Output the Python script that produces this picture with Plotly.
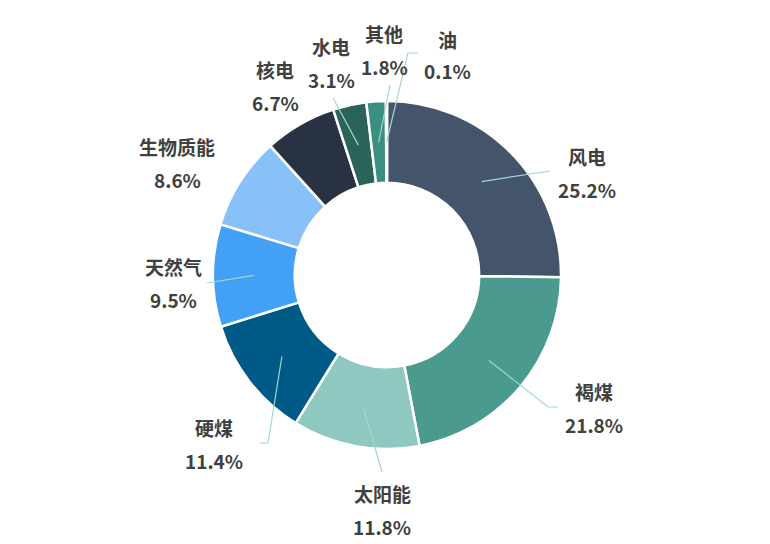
import math
import plotly.graph_objects as go

# ---- data ----
categories = ["风电", "褐煤", "太阳能", "硬煤", "天然气", "生物质能", "核电", "水电", "其他", "油"]
shares = [25.2, 21.8, 11.8, 11.4, 9.5, 8.6, 6.7, 3.1, 1.8, 0.1]
colors = ["#44546A", "#4A9A8F", "#8FC8C1", "#005A87", "#42A1F6",
          "#88C0F8", "#283243", "#2A6458", "#3A8F80", "#6FB7AC"]

# ---- layout config (pixels in the 770x544 window) ----
W, H = 770, 544
OFF = 8  # page body margin
FW, FH = W - OFF, H - OFF
CX, CY, R = 387, 275, 174
HOLE = 0.53
LINE_START_R = 133
# label centre (x, y of name line, y of value line)
label_pos = {
    "风电": (587, 156, 189),
    "褐煤": (594, 391, 424),
    "太阳能": (382, 493, 526),
    "硬煤": (214, 427, 460),
    "天然气": (173, 267, 299),
    "生物质能": (177, 147, 179),
    "核电": (275, 69, 102),
    "水电": (331, 47, 79),
    "其他": (384, 33, 66),
    "油": (447, 40, 71),
}
# leader-line bend/end points
line_pts = {
    "风电": [(550, 171)],
    "褐煤": [(548, 407), (558, 407)],
    "太阳能": [(382, 472)],
    "硬煤": [(268, 443), (260, 443)],
    "天然气": [(207, 283)],
    "水电": [(333, 98)],
    "其他": [(390, 85)],
    "油": [(408, 53), (418, 53)],
}


def px(x):
    return (x - OFF) / FW


def py(y):
    return 1 - (y - OFF) / FH


fig = go.Figure(go.Pie(
    labels=categories, values=shares, sort=False, direction="clockwise",
    rotation=0, hole=HOLE, textinfo="none", hoverinfo="label+percent",
    marker=dict(colors=colors, line=dict(color="white", width=2.5)),
    domain=dict(x=[px(CX - R), px(CX + R)], y=[py(CY + R), py(CY - R)]),
    showlegend=False,
))

total = sum(shares)
cum = 0.0
shapes = []
annotations = []
font = dict(family="Noto Sans CJK SC, Noto Sans, sans-serif", size=19, color="#404040", weight="bold")
for name, v in zip(categories, shares):
    mid = (cum + v / 2) / total * 2 * math.pi
    cum += v
    sx = CX + LINE_START_R * math.sin(mid)
    sy = CY - LINE_START_R * math.cos(mid)
    if name in line_pts:
        pts = [(sx, sy)] + line_pts[name]
        path = "M " + " L ".join(f"{px(x):.5f},{py(y):.5f}" for x, y in pts)
        shapes.append(dict(type="path", path=path, xref="paper", yref="paper",
                           line=dict(color="#A3D6CF", width=1.2)))
    lx, ly1, ly2 = label_pos[name]
    annotations.append(dict(x=px(lx), y=py(ly1), xref="paper", yref="paper", text=name,
                            showarrow=False, font=font, xanchor="center", yanchor="middle"))
    annotations.append(dict(x=px(lx), y=py(ly2), xref="paper", yref="paper", text=f"{v:.1f}%",
                            showarrow=False, font=font, xanchor="center", yanchor="middle"))

fig.update_layout(
    width=FW, height=FH, margin=dict(l=0, r=0, t=0, b=0),
    paper_bgcolor="white", plot_bgcolor="white",
    shapes=shapes, annotations=annotations,
)
fig.write_html("out.html")
